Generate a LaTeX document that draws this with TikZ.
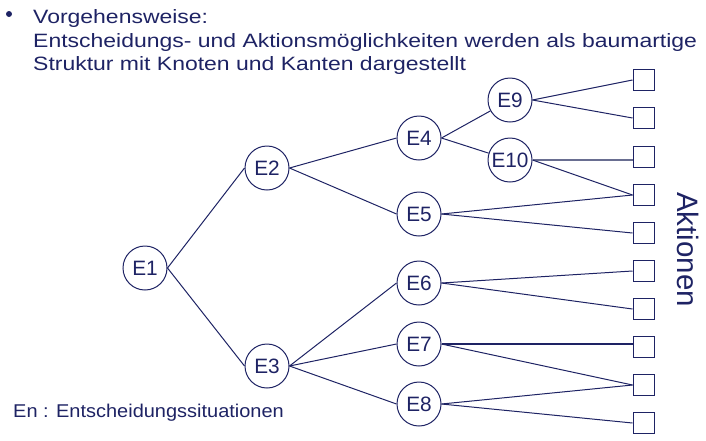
\documentclass[tikz,border=0pt]{standalone}
\usepackage{fontspec}
\setmainfont{Liberation Sans}
\newfontfamily\widesans[FakeStretch=1.19]{Liberation Sans}
\newfontfamily\legsans[FakeStretch=1.08]{Liberation Sans}
\definecolor{navy}{RGB}{30,35,100}
\definecolor{grayline}{RGB}{105,110,145}
\begin{document}
\begin{tikzpicture}[x=1pt,y=-1pt,
  ent/.style={circle, draw=navy, line width=1pt, minimum size=44pt, inner sep=0pt, text=navy, font=\fontsize{20.8}{22}\selectfont},
  akt/.style={draw=navy, line width=1pt, minimum size=21pt, inner sep=0pt},
  edge/.style={draw=navy, line width=1pt},
  lbl/.style={anchor=base west, inner sep=0pt, text=navy, font=\widesans\fontsize{19.3}{22}\selectfont}]
\useasboundingbox (0,0) rectangle (706,440);
% decision nodes
\node[ent] (E1) at (145,268) {E1};
\node[ent] (E2) at (267,168) {E2};
\node[ent] (E3) at (267,366) {E3};
\node[ent] (E4) at (419,138) {E4};
\node[ent] (E5) at (419,214) {E5};
\node[ent] (E6) at (419,283) {E6};
\node[ent] (E7) at (419,344) {E7};
\node[ent] (E8) at (419,404) {E8};
\node[ent] (E9) at (510,100) {E9};
\node[ent] (E10) at (510,160) {E10};
% action boxes
\foreach \i/\y in {1/80,2/118,3/157,4/195,5/233,6/271,7/309,8/347,9/385,10/423}
  \node[akt] (A\i) at (643.5,\y) {};
% edges
\draw[edge] (E1.east) -- (E2.west);
\draw[edge] (E1.east) -- (E3.west);
\draw[edge] (E2.east) -- (E4.west);
\draw[edge] (E2.east) -- (E5.west);
\draw[edge] (E3.east) -- (E6.west);
\draw[edge] (E3.east) -- (E7.west);
\draw[edge] (E3.east) -- (E8.west);
\draw[edge] (E4.east) -- (E9);
\draw[edge] (E4.east) -- (E10);
\draw[edge] (E9.east) -- (A1.west);
\draw[edge] (E9.east) -- (A2.west);
\draw[edge, draw=grayline, line width=1.8pt] (E10.east) -- (E10.east -| A3.west);
\draw[edge] (E10.east) -- (A4.west);
\draw[edge] (E5.east) -- (A4.west);
\draw[edge] (E5.east) -- (A5.west);
\draw[edge] (E6.east) -- (A6.west);
\draw[edge] (E6.east) -- (A7.west);
\draw[edge, line width=2.8pt] (E7.east) -- (E7.east -| A8.west);
\draw[edge] (E7.east) -- (A9.west);
\draw[edge] (E8.east) -- (A9.west);
\draw[edge] (E8.east) -- (A10.west);
% texts
\node[circle, fill=navy, inner sep=0pt, minimum size=6pt] (bul) at (9,14) {};
\node[lbl] (t1) at (33,23) {Vorgehensweise:};
\node[lbl] (t2) at (33,47) {Entscheidungs- und Aktionsmöglichkeiten werden als baumartige};
\node[lbl] (t3) at (33,70) {Struktur mit Knoten und Kanten dargestellt};
\node[lbl, font=\legsans\fontsize{18.5}{22}\selectfont] (leg) at (13,417) {En : Entscheidungssituationen};
\node[anchor=base, inner sep=0pt, rotate=-90, text=navy, font=\fontsize{29.5}{32}\selectfont] (akt) at (677,249.5) {Aktionen};
\end{tikzpicture}
\end{document}
